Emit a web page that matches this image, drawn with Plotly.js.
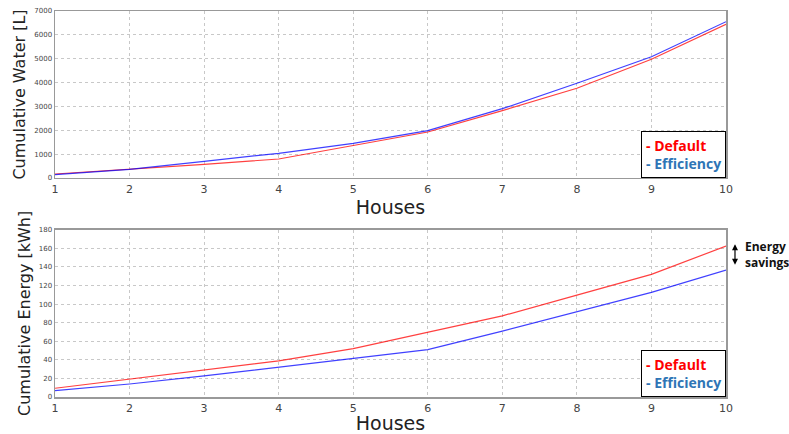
<!DOCTYPE html>
<html><head><meta charset="utf-8">
<script src="https://cdn.plot.ly/plotly-3.0.1.min.js"></script>
<style>html,body{margin:0;padding:0;background:#fff}</style>
</head><body>
<div id="chart" style="width:789px;height:434px"></div>
<script>
const houses = [1,2,3,4,5,6,7,8,9,10];
const waterDefault = [168,364,574,796,1354,1928,2821,3760,4975,6442];
const waterEfficiency = [140,364,700,1035,1454,1983,2905,3969,5084,6551];
const energyDefault = [9.4,19,28.8,38.8,52,69.4,87.3,109.6,131.9,162.4];
const energyEfficiency = [6.9,14,22.7,32,41,51,70.8,91.6,112.5,136.5];
const xTicks = [1,2,3,4,5,6,7,8,9,10];
const waterTicks = [0,1000,2000,3000,4000,5000,6000,7000];
const energyTicks = [0,20,40,60,80,100,120,140,160,180];

const red = 'rgba(255,0,0,0.75)';
const blue = 'rgba(0,0,255,0.75)';

const traces = [
  {x: houses, y: waterDefault, xaxis:'x', yaxis:'y', mode:'lines', line:{color:red, width:1.2}},
  {x: houses, y: waterEfficiency, xaxis:'x', yaxis:'y', mode:'lines', line:{color:blue, width:1.2}},
  {x: houses, y: energyDefault, xaxis:'x2', yaxis:'y2', mode:'lines', line:{color:red, width:1.2}},
  {x: houses, y: energyEfficiency, xaxis:'x2', yaxis:'y2', mode:'lines', line:{color:blue, width:1.2}}
];

const xax = (anchor) => ({
  anchor: anchor, range:[1,10], tickvals:xTicks, ticktext:xTicks.map(String),
  showline:true, mirror:true, linecolor:'#999', linewidth:1.5,
  showgrid:true, gridcolor:'#c8c8c8', griddash:'dot', zeroline:false,
  ticks:'', ticklabelstandoff:0, tickfont:{family:'DejaVu Sans', size:11, color:'#444'},
  title:{text:'Houses', font:{family:'DejaVu Sans', size:19, color:'#222'}, standoff:6},
  automargin:false
});
const yax = (anchor, dom, rng, tv, title) => ({
  anchor: anchor, domain: dom, range: rng, tickvals: tv, ticktext: tv.map(String),
  showline:true, mirror:true, linecolor:'#999', linewidth:1.5,
  showgrid:true, gridcolor:'#c8c8c8', griddash:'dot', zeroline:false,
  ticks:'', tickfont:{family:'DejaVu Sans', size:7, color:'#444'},
  title:{text:title, font:{family:'DejaVu Sans', size:16, color:'#222'}, standoff:4},
  automargin:false
});

const legendText = '<span style="color:#ff0000">- Default</span><br><span style="color:#2e75b6">- Efficiency</span>';

const layout = {
  width:789, height:434,
  margin:{l:55, r:63, t:11, b:37},
  paper_bgcolor:'#fff', plot_bgcolor:'#fff',
  showlegend:false,
  xaxis: Object.assign(xax('y'), {domain:[0,1]}),
  yaxis: yax('x', [0.5674,1], [0,7000], waterTicks, 'Cumulative Water [L]'),
  xaxis2: Object.assign(xax('y2'), {domain:[0,1]}),
  yaxis2: yax('x2', [0,0.4334], [0,180], energyTicks, 'Cumulative Energy [kWh]'),
  annotations: [
    {xref:'paper', yref:'paper', x:1, y:0.5674, xanchor:'right', yanchor:'bottom',
     text:'<b>'+legendText+'</b>', showarrow:false, align:'left',
     font:{family:'Open Sans', size:14}, bordercolor:'#000', borderwidth:1, bgcolor:'#fff', borderpad:4},
    {xref:'paper', yref:'paper', x:1, y:0, xanchor:'right', yanchor:'bottom',
     text:'<b>'+legendText+'</b>', showarrow:false, align:'left',
     font:{family:'Open Sans', size:14}, bordercolor:'#000', borderwidth:1, bgcolor:'#fff', borderpad:4},
    {xref:'paper', yref:'paper', x:1.0134, y:0.396, ax:0, ay:22, axref:'pixel', ayref:'pixel',
     text:'', showarrow:true, arrowside:'end+start', arrowhead:2, arrowsize:1, arrowwidth:1.2, arrowcolor:'#000'},
    {xref:'paper', yref:'paper', x:1.025, y:0.37, xanchor:'left', yanchor:'middle',
     text:'<b>Energy<br>savings</b>', showarrow:false, align:'left',
     font:{family:'Open Sans', size:12, color:'#111'}}
  ]
};

Plotly.newPlot('chart', traces, layout, {displayModeBar:false, staticPlot:true});
</script>
</body></html>
